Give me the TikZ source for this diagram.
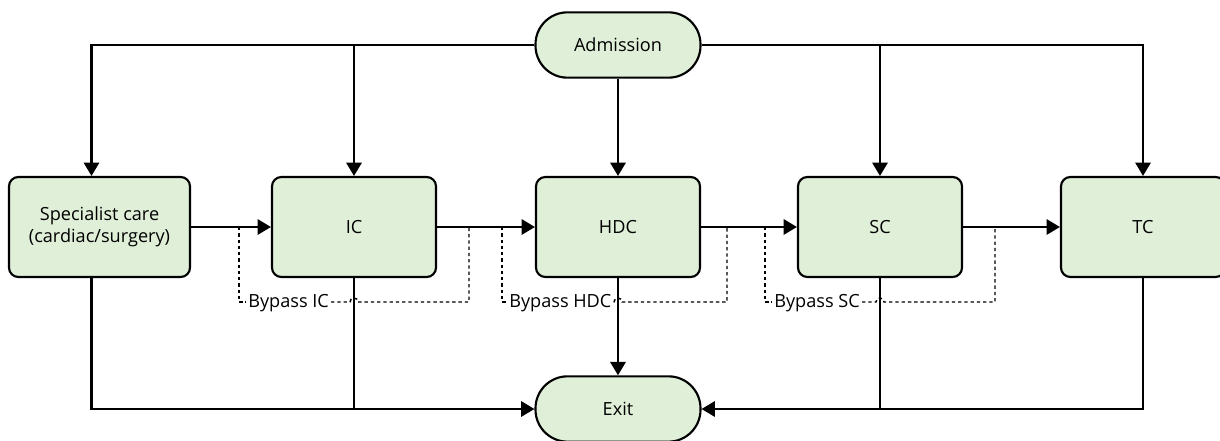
\documentclass[tikz,border=0pt]{standalone}
\usepackage{fontspec}
\setmainfont{Open Sans}
\usetikzlibrary{arrows.meta}
\definecolor{boxfill}{RGB}{224,239,216}
\begin{document}
\begin{tikzpicture}[x=0.75pt,y=-0.75pt,
  txt/.style={font=\fontsize{13.6}{16.5}\selectfont},
  box/.style={txt, draw, line width=1.6pt, fill=boxfill, rounded corners=7pt,
    minimum width=123pt, minimum height=75pt, align=center, inner sep=0pt},
  term/.style={txt, draw, line width=1.6pt, fill=boxfill, rounded corners=24pt,
    minimum width=123.75pt, minimum height=49pt, inner sep=0pt},
  arr/.style={line width=1.6pt, -{Triangle[length=10pt,width=11.5pt]}},
  ln/.style={line width=1.6pt},
  byp/.style={line width=1.1pt, dash pattern=on 2.5pt off 2.2pt},
  bl/.style={txt, inner sep=1.5pt, anchor=base west}
]
\useasboundingbox (0,0) rectangle (1220,441);

% nodes
\node[term] (adm) at (618,45) {Admission};
\node[term] (exit) at (618,409) {Exit};
\node[box, minimum width=135.75pt] (spec) at (99.5,227) {Specialist care\\(cardiac/surgery)};
\node[box] (ic) at (354,227) {IC};
\node[box] (hdc) at (618,227) {HDC};
\node[box] (sc) at (880,227) {SC};
\node[box] (tc) at (1143,227) {TC};

% top distribution
\draw[arr] (adm.west) -| ([xshift=-6pt]spec.north);
\draw[arr] (adm.west) -| (ic.north);
\draw[arr] (adm.south) -- (hdc.north);
\draw[arr] (adm.east) -| (sc.north);
\draw[arr] (adm.east) -| (tc.north);

% chain
\draw[arr] (spec) -- (ic);
\draw[arr] (ic) -- (hdc);
\draw[arr] (hdc) -- (sc);
\draw[arr] (sc) -- (tc);

% to exit
\draw[arr] ([xshift=-6pt]spec.south) |- (exit.west);
\draw[ln] (ic.south) -- (ic.south |- exit.west);
\draw[arr] (hdc) -- (exit);
\draw[ln] (sc.south) -- (sc.south |- exit.east);
\draw[arr] (tc.south) |- (exit.east);

% bypass IC
\coordinate (icL) at (239,227);
\coordinate (icBL) at (239,302);
\coordinate (icR) at (469,227);
\coordinate (icBR) at (469,302);
\node[bl] (bic) at (246,308) {Bypass IC};
\draw[byp] (icL) -- (icBL) -- (bic.west |- icBL);
\draw[byp] (bic.east |- icBL) -- ([xshift=-3pt]ic.south |- icBL)
  arc[start angle=180,end angle=0,radius=3pt] -- (icBR) -- (icR);

% bypass HDC
\coordinate (hdL) at (502,227);
\coordinate (hdBL) at (502,302);
\coordinate (hdR) at (727,227);
\coordinate (hdBR) at (727,302);
\node[bl] (bhdc) at (507,308) {Bypass HDC};
\draw[byp] (hdL) -- (hdBL) -- (bhdc.west |- hdBL);
\draw[byp] (bhdc.east |- hdBL) -- ([xshift=-3pt]hdc.south |- hdBL)
  arc[start angle=180,end angle=0,radius=3pt] -- (hdBR) -- (hdR);

% bypass SC
\coordinate (scL) at (765,227);
\coordinate (scBL) at (765,302);
\coordinate (scR) at (995,227);
\coordinate (scBR) at (995,302);
\node[bl] (bsc) at (772,308) {Bypass SC};
\draw[byp] (scL) -- (scBL) -- (bsc.west |- scBL);
\draw[byp] (bsc.east |- scBL) -- ([xshift=-3pt]sc.south |- scBL)
  arc[start angle=180,end angle=0,radius=3pt] -- (scBR) -- (scR);
\end{tikzpicture}
\end{document}
